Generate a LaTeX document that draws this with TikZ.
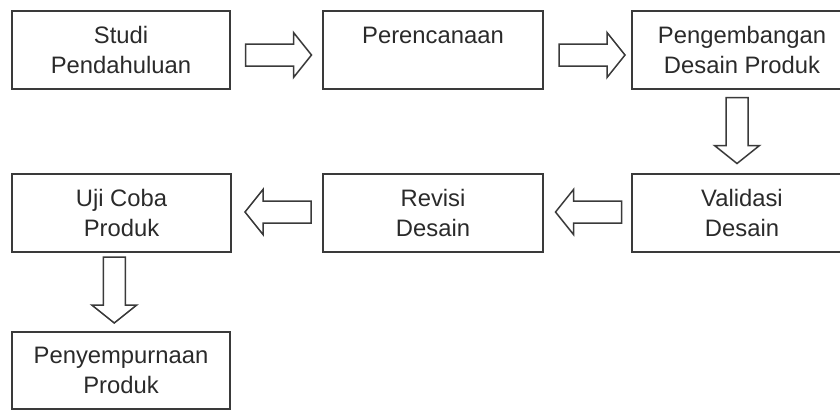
\documentclass[tikz,border=0pt]{standalone}
\usepackage{fontspec}
\setmainfont{Liberation Sans}
\usetikzlibrary{calc}
\definecolor{txt}{HTML}{2A2A2A}
\definecolor{edge}{HTML}{3A3A3A}
\begin{document}
\begin{tikzpicture}[x=1pt,y=-1pt,
  stepbox/.style={draw=edge, line width=1.8pt, minimum height=78pt, inner sep=0pt,
    align=center, text=txt, font=\fontsize{23.8}{30}\selectfont},
  blk/.pic={\draw[draw=edge, line width=1.5pt, fill=white, line join=miter]
    (-33,-11) -- (15,-11) -- (15,-22.5) -- (33,0) -- (15,22.5) -- (15,11) -- (-33,11) -- cycle;}]
\useasboundingbox (0,0) rectangle (840,410);
\clip (0,0) rectangle (840,410);
\node[stepbox, minimum width=218pt] (s1) at (121,50) {Studi\\Pendahuluan};
\node[stepbox, minimum width=220pt] (s2) at (433,50) {Perencanaan\\\mbox{}};
\node[stepbox, minimum width=220pt] (s3) at (742,50) {Pengembangan\\Desain Produk};
\node[stepbox, minimum width=220pt] (v) at (742,213) {Validasi\\Desain};
\node[stepbox, minimum width=220pt] (r) at (433,213) {Revisi\\Desain};
\node[stepbox, minimum width=219pt] (u) at (121.5,213) {Uji Coba\\Produk};
\node[stepbox, minimum width=218pt, minimum height=77pt] (p) at (121,370.5) {Penyempurnaan\\Produk};
\pic at ($(s1.east)!0.5!(s2.west)+(2,5)$) {blk};
\pic at ($(s2.east)!0.5!(s3.west)+(4.5,5)$) {blk};
\pic[rotate=-90] at ($(s3.south)!0.5!(v.north)+(-5,-1)$) {blk};
\pic[rotate=180] at ($(v.west)!0.5!(r.east)+(1,-1)$) {blk};
\pic[rotate=180] at ($(r.west)!0.5!(u.east)+(1,-1)$) {blk};
\pic[rotate=-90] at ($(u.south)!0.5!(p.north)+(-7,-2)$) {blk};
\end{tikzpicture}
\end{document}
